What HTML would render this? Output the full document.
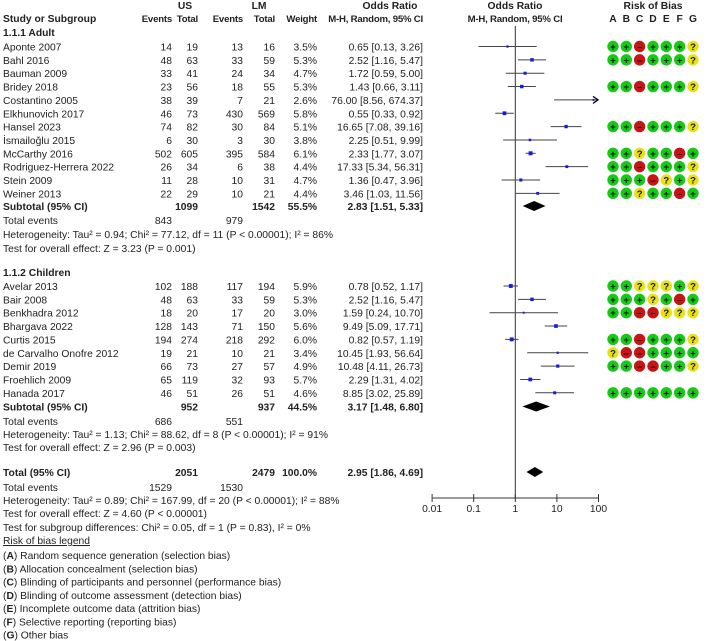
<!DOCTYPE html>
<html><head><meta charset="utf-8">
<style>
html,body{margin:0;padding:0;background:#fff;}
svg{display:block;font-family:"Liberation Sans",Arial,sans-serif;font-size:10.3px;fill:#222;}
.b{font-weight:bold;}
.h{font-size:9.6px;letter-spacing:-0.2px;}
</style></head>
<body>
<svg id="plot" width="719" height="641" viewBox="0 0 719 641" xmlns="http://www.w3.org/2000/svg">
<g id="hdr">
<text x="185" y="9" class="b" text-anchor="middle">US</text>
<text x="259" y="9" class="b" text-anchor="middle">LM</text>
<text x="390" y="9" class="b" text-anchor="middle">Odds Ratio</text>
<text x="515" y="9" class="b" text-anchor="middle">Odds Ratio</text>
<text x="653" y="9" class="b" text-anchor="middle">Risk of Bias</text>
<text x="3" y="22" class="b">Study or Subgroup</text>
<text x="172" y="22" class="b h" text-anchor="end">Events</text>
<text x="198" y="22" class="b h" text-anchor="end">Total</text>
<text x="243" y="22" class="b h" text-anchor="end">Events</text>
<text x="275" y="22" class="b h" text-anchor="end">Total</text>
<text x="317" y="22" class="b h" text-anchor="end">Weight</text>
<text x="423" y="22" class="b h" text-anchor="end">M-H, Random, 95% CI</text>
<text x="515" y="22" class="b h" text-anchor="middle">M-H, Random, 95% CI</text>
</g>
<g id="body"></g>
</svg>
<script>
const adultStudies=["Aponte 2007","Bahl 2016","Bauman 2009","Bridey 2018","Costantino 2005","Elkhunovich 2017","Hansel 2023","İsmailoğlu 2015","McCarthy 2016","Rodriguez-Herrera 2022","Stein 2009","Weiner 2013"];
const adultUsE=[14,48,33,23,38,46,74,6,502,26,11,22];
const adultUsT=[19,63,41,56,39,73,82,30,605,34,28,29];
const adultLmE=[13,33,24,18,7,430,30,3,395,6,10,10];
const adultLmT=[16,59,34,55,21,569,84,30,584,38,31,21];
const adultW=[3.5,5.3,4.7,5.3,2.6,5.8,5.1,3.8,6.1,4.4,4.7,4.4];
const adultOR=[0.65,2.52,1.72,1.43,76.00,0.55,16.65,2.25,2.33,17.33,1.36,3.46];
const adultLo=[0.13,1.16,0.59,0.66,8.56,0.33,7.08,0.51,1.77,5.34,0.47,1.03];
const adultHi=[3.26,5.47,5.00,3.11,674.37,0.92,39.16,9.99,3.07,56.31,3.96,11.56];
const adultBias=["++-+++?","++-+++?","","++-+++?","","","++-+++?","","++?++-+","++-+++?","+++-?+?","++?++-+"];
const childStudies=["Avelar 2013","Bair 2008","Benkhadra 2012","Bhargava 2022","Curtis 2015","de Carvalho Onofre 2012","Demir 2019","Froehlich 2009","Hanada 2017"];
const childUsE=[102,48,18,128,194,19,66,65,46];
const childUsT=[188,63,20,143,274,21,73,119,51];
const childLmE=[117,33,17,71,218,10,27,32,26];
const childLmT=[194,59,20,150,292,21,57,93,51];
const childW=[5.9,5.3,3.0,5.6,6.0,3.4,4.9,5.7,4.6];
const childOR=[0.78,2.52,1.59,9.49,0.82,10.45,10.48,2.29,8.85];
const childLo=[0.52,1.16,0.24,5.09,0.57,1.93,4.11,1.31,3.02];
const childHi=[1.17,5.47,10.70,17.71,1.19,56.64,26.73,4.02,25.89];
const childBias=["++???+?","+++?+-+","++--???","","++-+++?","?--++++","++--++?","","+++++++"];
const summaryOR=[2.83,3.17,2.95];
const summaryLo=[1.51,1.48,1.86];
const summaryHi=[5.33,6.80,4.69];
const axisTicks=[0.01,0.1,1,10,100];
const axisLabels=["0.01","0.1","1","10","100"];
const biasLetters=["A","B","C","D","E","F","G"];

const NS="http://www.w3.org/2000/svg";
const body=document.getElementById('body');
const X0=515.3, DEC=41.6, XMIN=432.7, XMAX=599;
function xs(v){return X0+Math.log10(v)*DEC;}
function mk(tag,attrs,parent){const e=document.createElementNS(NS,tag);for(const k in attrs)e.setAttribute(k,attrs[k]);(parent||body).appendChild(e);return e;}
function txt(x,y,s,anchor,bold,name){const t=mk('text',{x:x,y:y+4,'text-anchor':anchor||'start'});if(bold)t.setAttribute('class','b');t.textContent=s;


return t;}
const f2=v=>v.toFixed(2);
const biasX=[613,626.3,639.6,653,666.3,679.6,693];
biasLetters.forEach((l,i)=>{txt(biasX[i],18,l,'middle',true,'bias-column-'+l.toLowerCase());});

const vl=mk('line',{x1:X0,y1:26,x2:X0,y2:498,stroke:'#333','stroke-width':1});


const ax=mk('line',{x1:XMIN,y1:498,x2:XMAX,y2:498,stroke:'#333','stroke-width':1});


axisTicks.forEach((v,i)=>{const tk=mk('line',{x1:xs(v),y1:494,x2:xs(v),y2:502,stroke:'#333'});


txt(xs(v),508,axisLabels[i],'middle',false,'x-tick-label');});

function biasDots(y,code){if(!code)return;
for(let i=0;i<7;i++){const c=code[i];const col=c==='+'?'#17c917':c==='-'?'#c81414':'#e8e214';
const d=mk('circle',{cx:biasX[i],cy:y,r:5.7,fill:col});


const s=mk('text',{x:biasX[i],y:y+3.5,'text-anchor':'middle','font-size':'9.5','font-weight':'bold',fill:'#111'});
s.textContent=c==='-'?'–':c;

}}

function studyRow(y,name,ue,ut,le,lt,w,or,lo,hi,bias){
txt(3,y,name,'start',false,'study-name');
txt(172,y,String(ue),'end',false,'us-events');
txt(198,y,String(ut),'end',false,'us-total');
txt(243,y,String(le),'end',false,'lm-events');
txt(275,y,String(lt),'end',false,'lm-total');
txt(317,y,w.toFixed(1)+'%','end',false,'weight');
txt(423,y,f2(or)+' ['+f2(lo)+', '+f2(hi)+']','end',false,'odds-ratio-ci');
const x1=Math.max(XMIN,xs(lo)), x2=Math.min(XMAX-2,xs(hi));
const l=mk('line',{x1:x1,y1:y,x2:x2,y2:y,stroke:'#444','stroke-width':1});


if(xs(hi)>XMAX){const a=mk('path',{d:`M${x2-4},${y-3.5} L${x2+1},${y} L${x2-4},${y+3.5}`,stroke:'#000',fill:'none','stroke-width':1.3});

}
const s=Math.max(2,w*0.65);const xc=Math.min(xs(or),XMAX-4);
const r=mk('rect',{x:xc-s/2,y:y-s/2,width:s,height:s,fill:'#1a1ad8'});


biasDots(y,bias);}

function diamond(y,i,name){const d=mk('path',{d:`M${xs(summaryLo[i])},${y} L${xs(summaryOR[i])},${y-5} L${xs(summaryHi[i])},${y} L${xs(summaryOR[i])},${y+5} Z`,fill:'#000'});

}

txt(3,32,'1.1.1 Adult','start',true,'subgroup-adult-title');
adultStudies.forEach((n,i)=>studyRow(46.5+13.35*i,n,adultUsE[i],adultUsT[i],adultLmE[i],adultLmT[i],adultW[i],adultOR[i],adultLo[i],adultHi[i],adultBias[i]));
let y=206;
txt(3,y,'Subtotal (95% CI)','start',true,'subtotal-adult-label');
txt(198,y,'1099','end',true,'subtotal-adult-us');
txt(275,y,'1542','end',true,'subtotal-adult-lm');
txt(317,y,'55.5%','end',true,'subtotal-adult-weight');
txt(423,y,'2.83 [1.51, 5.33]','end',true,'subtotal-adult-or');
diamond(y,0,'diamond-adult');
txt(3,220,'Total events','start',false,'total-events-adult');
txt(172,220,'843','end',false,'events-adult-us');
txt(243,220,'979','end',false,'events-adult-lm');
txt(3,234,'Heterogeneity: Tau² = 0.94; Chi² = 77.12, df = 11 (P < 0.00001); I² = 86%','start',false,'heterogeneity-adult');
txt(3,248,'Test for overall effect: Z = 3.23 (P = 0.001)','start',false,'overall-effect-adult');

txt(3,272,'1.1.2 Children','start',true,'subgroup-children-title');
childStudies.forEach((n,i)=>studyRow(286+13.35*i,n,childUsE[i],childUsT[i],childLmE[i],childLmT[i],childW[i],childOR[i],childLo[i],childHi[i],childBias[i]));
y=406.5;
txt(3,y,'Subtotal (95% CI)','start',true,'subtotal-children-label');
txt(198,y,'952','end',true,'subtotal-children-us');
txt(275,y,'937','end',true,'subtotal-children-lm');
txt(317,y,'44.5%','end',true,'subtotal-children-weight');
txt(423,y,'3.17 [1.48, 6.80]','end',true,'subtotal-children-or');
diamond(y,1,'diamond-children');
txt(3,421,'Total events','start',false,'total-events-children');
txt(172,421,'686','end',false,'events-children-us');
txt(243,421,'551','end',false,'events-children-lm');
txt(3,434,'Heterogeneity: Tau² = 1.13; Chi² = 88.62, df = 8 (P < 0.00001); I² = 91%','start',false,'heterogeneity-children');
txt(3,447,'Test for overall effect: Z = 2.96 (P = 0.003)','start',false,'overall-effect-children');

y=472;
txt(3,y,'Total (95% CI)','start',true,'total-label');
txt(198,y,'2051','end',true,'total-us');
txt(275,y,'2479','end',true,'total-lm');
txt(317,y,'100.0%','end',true,'total-weight');
txt(423,y,'2.95 [1.86, 4.69]','end',true,'total-or');
diamond(y,2,'diamond-total');
txt(3,487,'Total events','start',false,'total-events-overall');
txt(172,487,'1529','end',false,'events-total-us');
txt(243,487,'1530','end',false,'events-total-lm');
txt(3,500,'Heterogeneity: Tau² = 0.89; Chi² = 167.99, df = 20 (P < 0.00001); I² = 88%','start',false,'heterogeneity-total');
txt(3,513,'Test for overall effect: Z = 4.60 (P < 0.00001)','start',false,'overall-effect-total');
txt(3,527,'Test for subgroup differences: Chi² = 0.05, df = 1 (P = 0.83), I² = 0%','start',false,'subgroup-differences');
const lg=txt(3,540,'Risk of bias legend','start',false,'bias-legend-title');
lg.setAttribute('text-decoration','underline');
const legend=[["A","Random sequence generation (selection bias)"],["B","Allocation concealment (selection bias)"],["C","Blinding of participants and personnel (performance bias)"],["D","Blinding of outcome assessment (detection bias)"],["E","Incomplete outcome data (attrition bias)"],["F","Selective reporting (reporting bias)"],["G","Other bias"]];
legend.forEach((e,i)=>{const t=mk('text',{x:3,y:555+13.25*i+4});


const b=mk('tspan',{'font-weight':'bold'},t);b.textContent=e[0];
t.insertBefore(document.createTextNode('('),b);
t.appendChild(document.createTextNode(') '+e[1]));});
</script>
</body></html>
